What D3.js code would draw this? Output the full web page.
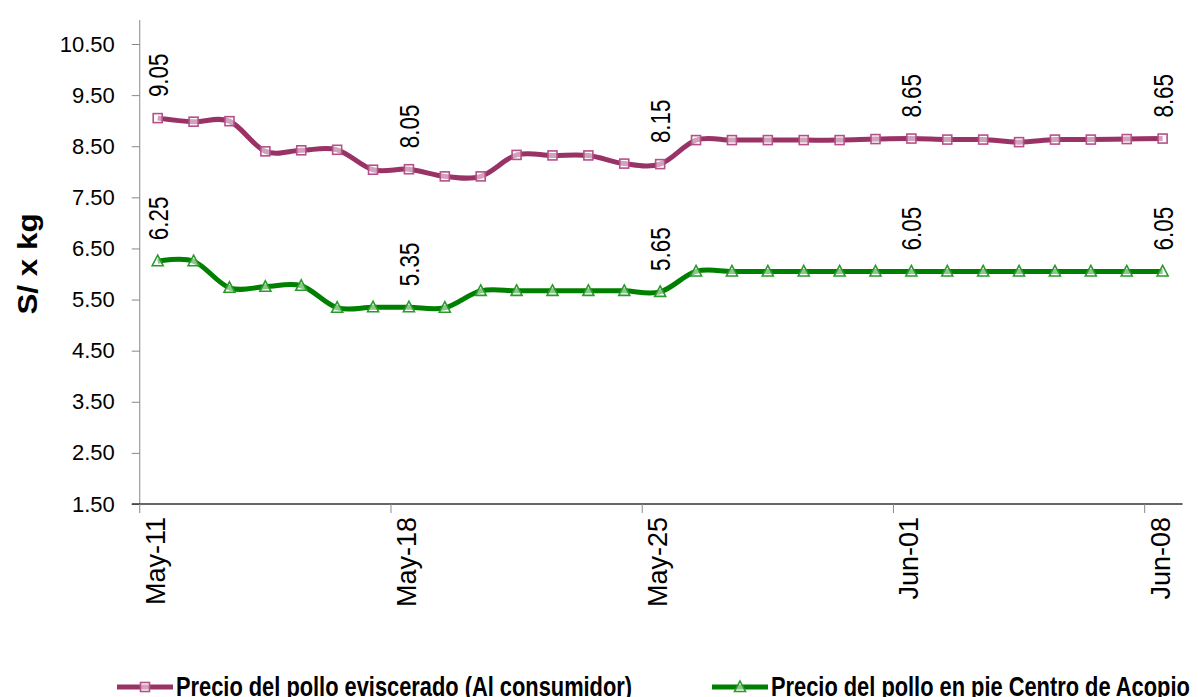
<!DOCTYPE html>
<html>
<head>
<meta charset="utf-8">
<script src="https://cdn.jsdelivr.net/npm/d3@7"></script>
<style>
  body { margin: 0; background: #fff; }
  svg { display: block; font-family: "Liberation Sans", Arial, sans-serif; }
</style>
</head>
<body>
<div id="chart"></div>
<script>
// days shown on the x axis (May 11 .. Jun 08)
const dates = ["May-11","May-12","May-13","May-14","May-15","May-16","May-17","May-18","May-19","May-20",
  "May-21","May-22","May-23","May-24","May-25","May-26","May-27","May-28","May-29","May-30","May-31",
  "Jun-01","Jun-02","Jun-03","Jun-04","Jun-05","Jun-06","Jun-07","Jun-08"];

// S/ x kg
const eviscerado = [9.05, 8.98, 8.99, 8.40, 8.42, 8.43, 8.04, 8.05, 7.91, 7.91, 8.33, 8.32, 8.32, 8.16, 8.15,
  8.62, 8.62, 8.62, 8.62, 8.62, 8.64, 8.65, 8.63, 8.63, 8.58, 8.63, 8.63, 8.64, 8.65];
const enPie = [6.25, 6.25, 5.73, 5.75, 5.77, 5.34, 5.35, 5.35, 5.34, 5.67, 5.67, 5.67, 5.67, 5.67, 5.65,
  6.05, 6.05, 6.05, 6.05, 6.05, 6.05, 6.05, 6.05, 6.05, 6.05, 6.05, 6.05, 6.05, 6.05];

const yTicks = [1.5, 2.5, 3.5, 4.5, 5.5, 6.5, 7.5, 8.5, 9.5, 10.5];
const labelEvery = 7;

const seriesNames = ["Precio del pollo eviscerado (Al consumidor)", "Precio del pollo en pie Centro de Acopio"];

const width = 1198, height = 697;
const plotLeft = 139.75, plotBottom = 504, plotTop = 20;

let svg = d3.select("#chart").append("svg")
  .attr("width", width)
  .attr("height", height);

let x = d3.scaleBand()
  .domain(dates)
  .range([plotLeft, plotLeft + 29 * 35.89]);

let y = d3.scaleLinear()
  .domain([1.5, 10.5])
  .range([plotBottom, 44]);

let cx = d => x(d) + x.bandwidth() / 2;

// y axis
let yAxis = svg.append("g")
  .attr("transform", `translate(${plotLeft},0)`)
  .call(d3.axisLeft(y).tickValues(yTicks).tickFormat(d3.format(".2f")).tickSize(8).tickPadding(17).tickSizeOuter(0));
yAxis.select(".domain").attr("d", `M0,${plotTop}V${plotBottom}`).attr("stroke", "#888");
yAxis.selectAll(".tick line").attr("stroke", "#888");
yAxis.selectAll(".tick text")
  .attr("font-size", "22px")
  .attr("fill", "#000");

// x axis: ticks between weeks, labels on the day
let xAxis = svg.append("g")
  .attr("transform", `translate(0,${plotBottom})`);
xAxis.append("line")
  .attr("x1", plotLeft - 8).attr("x2", x.range()[1] + 2)
  .attr("y1", 0).attr("y2", 0)
  .attr("stroke", "#333").attr("stroke-width", 1.5);
let weekIdx = dates.map((d, i) => i).filter(i => i % labelEvery === 0);
xAxis.selectAll(".xtick").data(weekIdx).enter()
  .append("line")
  .attr("x1", i => x(dates[i])).attr("x2", i => x(dates[i]))
  .attr("y1", 0).attr("y2", 9)
  .attr("stroke", "#888");
xAxis.selectAll(".xlabel").data(weekIdx).enter()
  .append("text")
  .attr("transform", i => `translate(${cx(dates[i]) + 7},13) rotate(-90)`)
  .attr("text-anchor", "end")
  .attr("font-size", "27px")
  .text(i => dates[i]);

// y title
svg.append("text")
  .attr("transform", "translate(37,264) rotate(-90) scale(1.12,1)")
  .attr("text-anchor", "middle")
  .attr("font-size", "28px")
  .attr("font-weight", "bold")
  .text("S/ x kg");

let line = d3.line()
  .x((d, i) => cx(dates[i]))
  .y(d => y(d))
  .curve(d3.curveCardinal.tension(0));

let series = [
  { name: seriesNames[0], values: eviscerado, color: "#993366", mark: "#b5508a", shape: "square" },
  { name: seriesNames[1], values: enPie, color: "#008000", mark: "#2a9a2a", shape: "triangle" }
];

function drawMarker(g, shape, color) {
  if (shape === "square") {
    g.append("rect")
      .attr("x", -4.5).attr("y", -4.5)
      .attr("width", 9).attr("height", 9)
      .attr("fill", "#fff").attr("fill-opacity", 0.55)
      .attr("stroke", color).attr("stroke-width", 1.6);
  } else {
    g.append("path")
      .attr("d", "M0,-6L5.5,4.5L-5.5,4.5Z")
      .attr("fill", "#fff").attr("fill-opacity", 0.55)
      .attr("stroke", color).attr("stroke-width", 1.6);
  }
}

series.forEach(s => {
  svg.append("path")
    .datum(s.values)
    .attr("d", line)
    .attr("fill", "none")
    .attr("stroke", s.color)
    .attr("stroke-width", 5)
    .attr("stroke-linejoin", "round");

  svg.append("g").selectAll("g")
    .data(s.values).enter()
    .append("g")
    .attr("transform", (d, i) => `translate(${cx(dates[i])},${y(d)})`)
    .each(function() { drawMarker(d3.select(this), s.shape, s.mark); });

  // data labels each week
  svg.append("g").selectAll("text")
    .data(weekIdx).enter()
    .append("text")
    .attr("transform", i => `translate(${cx(dates[i]) + 10},${y(s.values[i]) - 21}) rotate(-90) scale(0.8,1)`)
    .attr("font-size", "28px")
    .text(i => s.values[i].toFixed(2));
});

// legend
let legendX = [117, 712];
series.forEach((s, k) => {
  let lg = svg.append("g").attr("transform", `translate(${legendX[k]},687)`);
  lg.append("line")
    .attr("x1", 0).attr("x2", 56)
    .attr("stroke", s.color).attr("stroke-width", 5);
  drawMarker(lg.append("g").attr("transform", "translate(28,0)"), s.shape, s.mark);
  lg.append("text")
    .attr("transform", "translate(59,9) scale(0.78,1)")
    .attr("font-size", "28px")
    .attr("font-weight", "bold")
    .text(s.name);
});
</script>
</body>
</html>
